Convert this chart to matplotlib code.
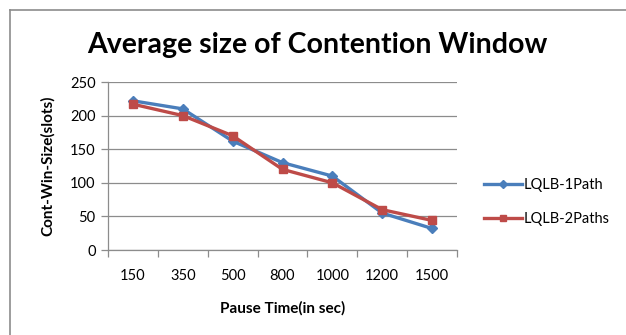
import numpy as np
import matplotlib.pyplot as plt
from matplotlib.lines import Line2D

# pause times and average contention window size (slots)
pause_times = ['150', '350', '500', '800', '1000', '1200', '1500']
lqlb_1path = [222, 210, 162, 130, 110, 55, 32]
lqlb_2paths = [217, 200, 170, 120, 100, 60, 44]

plt.rcParams['font.family'] = ['Lato', 'DejaVu Sans']

W, H = 626, 335
fig = plt.figure(figsize=(W / 100, H / 100), dpi=100)
ax = fig.add_axes([108 / W, 1 - 250 / H, (457 - 108) / W, (250 - 82) / H])

x = np.arange(len(pause_times))
ax.plot(x, lqlb_1path, color='#4A7EBB', lw=2.4, marker='D', ms=5.5,
        label='LQLB-1Path', zorder=3)
ax.plot(x, lqlb_2paths, color='#BE4B48', lw=2.4, marker='s', ms=6,
        label='LQLB-2Paths', zorder=3)

ax.set_xlim(-0.5, len(pause_times) - 0.5)
ax.set_ylim(0, 250)
ax.set_yticks(range(0, 251, 50))
ax.yaxis.grid(True, color='#8c8c8c', lw=0.9)
ax.set_axisbelow(True)

# category labels centred, tick marks on the boundaries
ax.set_xticks(x)
ax.set_xticklabels(pause_times)
ax.set_xticks(np.arange(-0.5, len(pause_times), 1), minor=True)
ax.tick_params(axis='x', which='major', length=0, pad=14, labelsize=10.5)
ax.tick_params(axis='x', which='minor', length=5, color='#8c8c8c', width=0.9)
ax.tick_params(axis='y', length=5, color='#8c8c8c', width=0.9, labelsize=10.5, pad=4)

for side in ['top', 'right']:
    ax.spines[side].set_visible(False)
for side in ['left', 'bottom']:
    ax.spines[side].set_color('#8c8c8c')
    ax.spines[side].set_linewidth(0.9)

ax.set_xlabel('Pause Time(in sec)', fontsize=11, fontweight='bold', labelpad=13)
ax.set_ylabel('Cont-Win-Size(slots)', fontsize=11, fontweight='bold', labelpad=11)

fig.text(317 / W, 1 - 45 / H, 'Average size of Contention Window',
         ha='center', va='center', fontsize=20.5, fontweight='bold')

leg = ax.legend(loc='center left', bbox_to_anchor=(1.06, 0.286), frameon=False,
                fontsize=10.5, handlelength=2.6, handletextpad=0.1,
                labelspacing=1.35, borderaxespad=0, markerscale=0.8)

# chart frame (top and left edges)
fig.add_artist(Line2D([9.5 / W, 1], [1 - 9.5 / H, 1 - 9.5 / H], color='#8c8c8c', lw=1.2))
fig.add_artist(Line2D([9.5 / W, 9.5 / W], [0, 1 - 9.5 / H], color='#8c8c8c', lw=1.2))

fig.savefig('out.png', dpi=100)
